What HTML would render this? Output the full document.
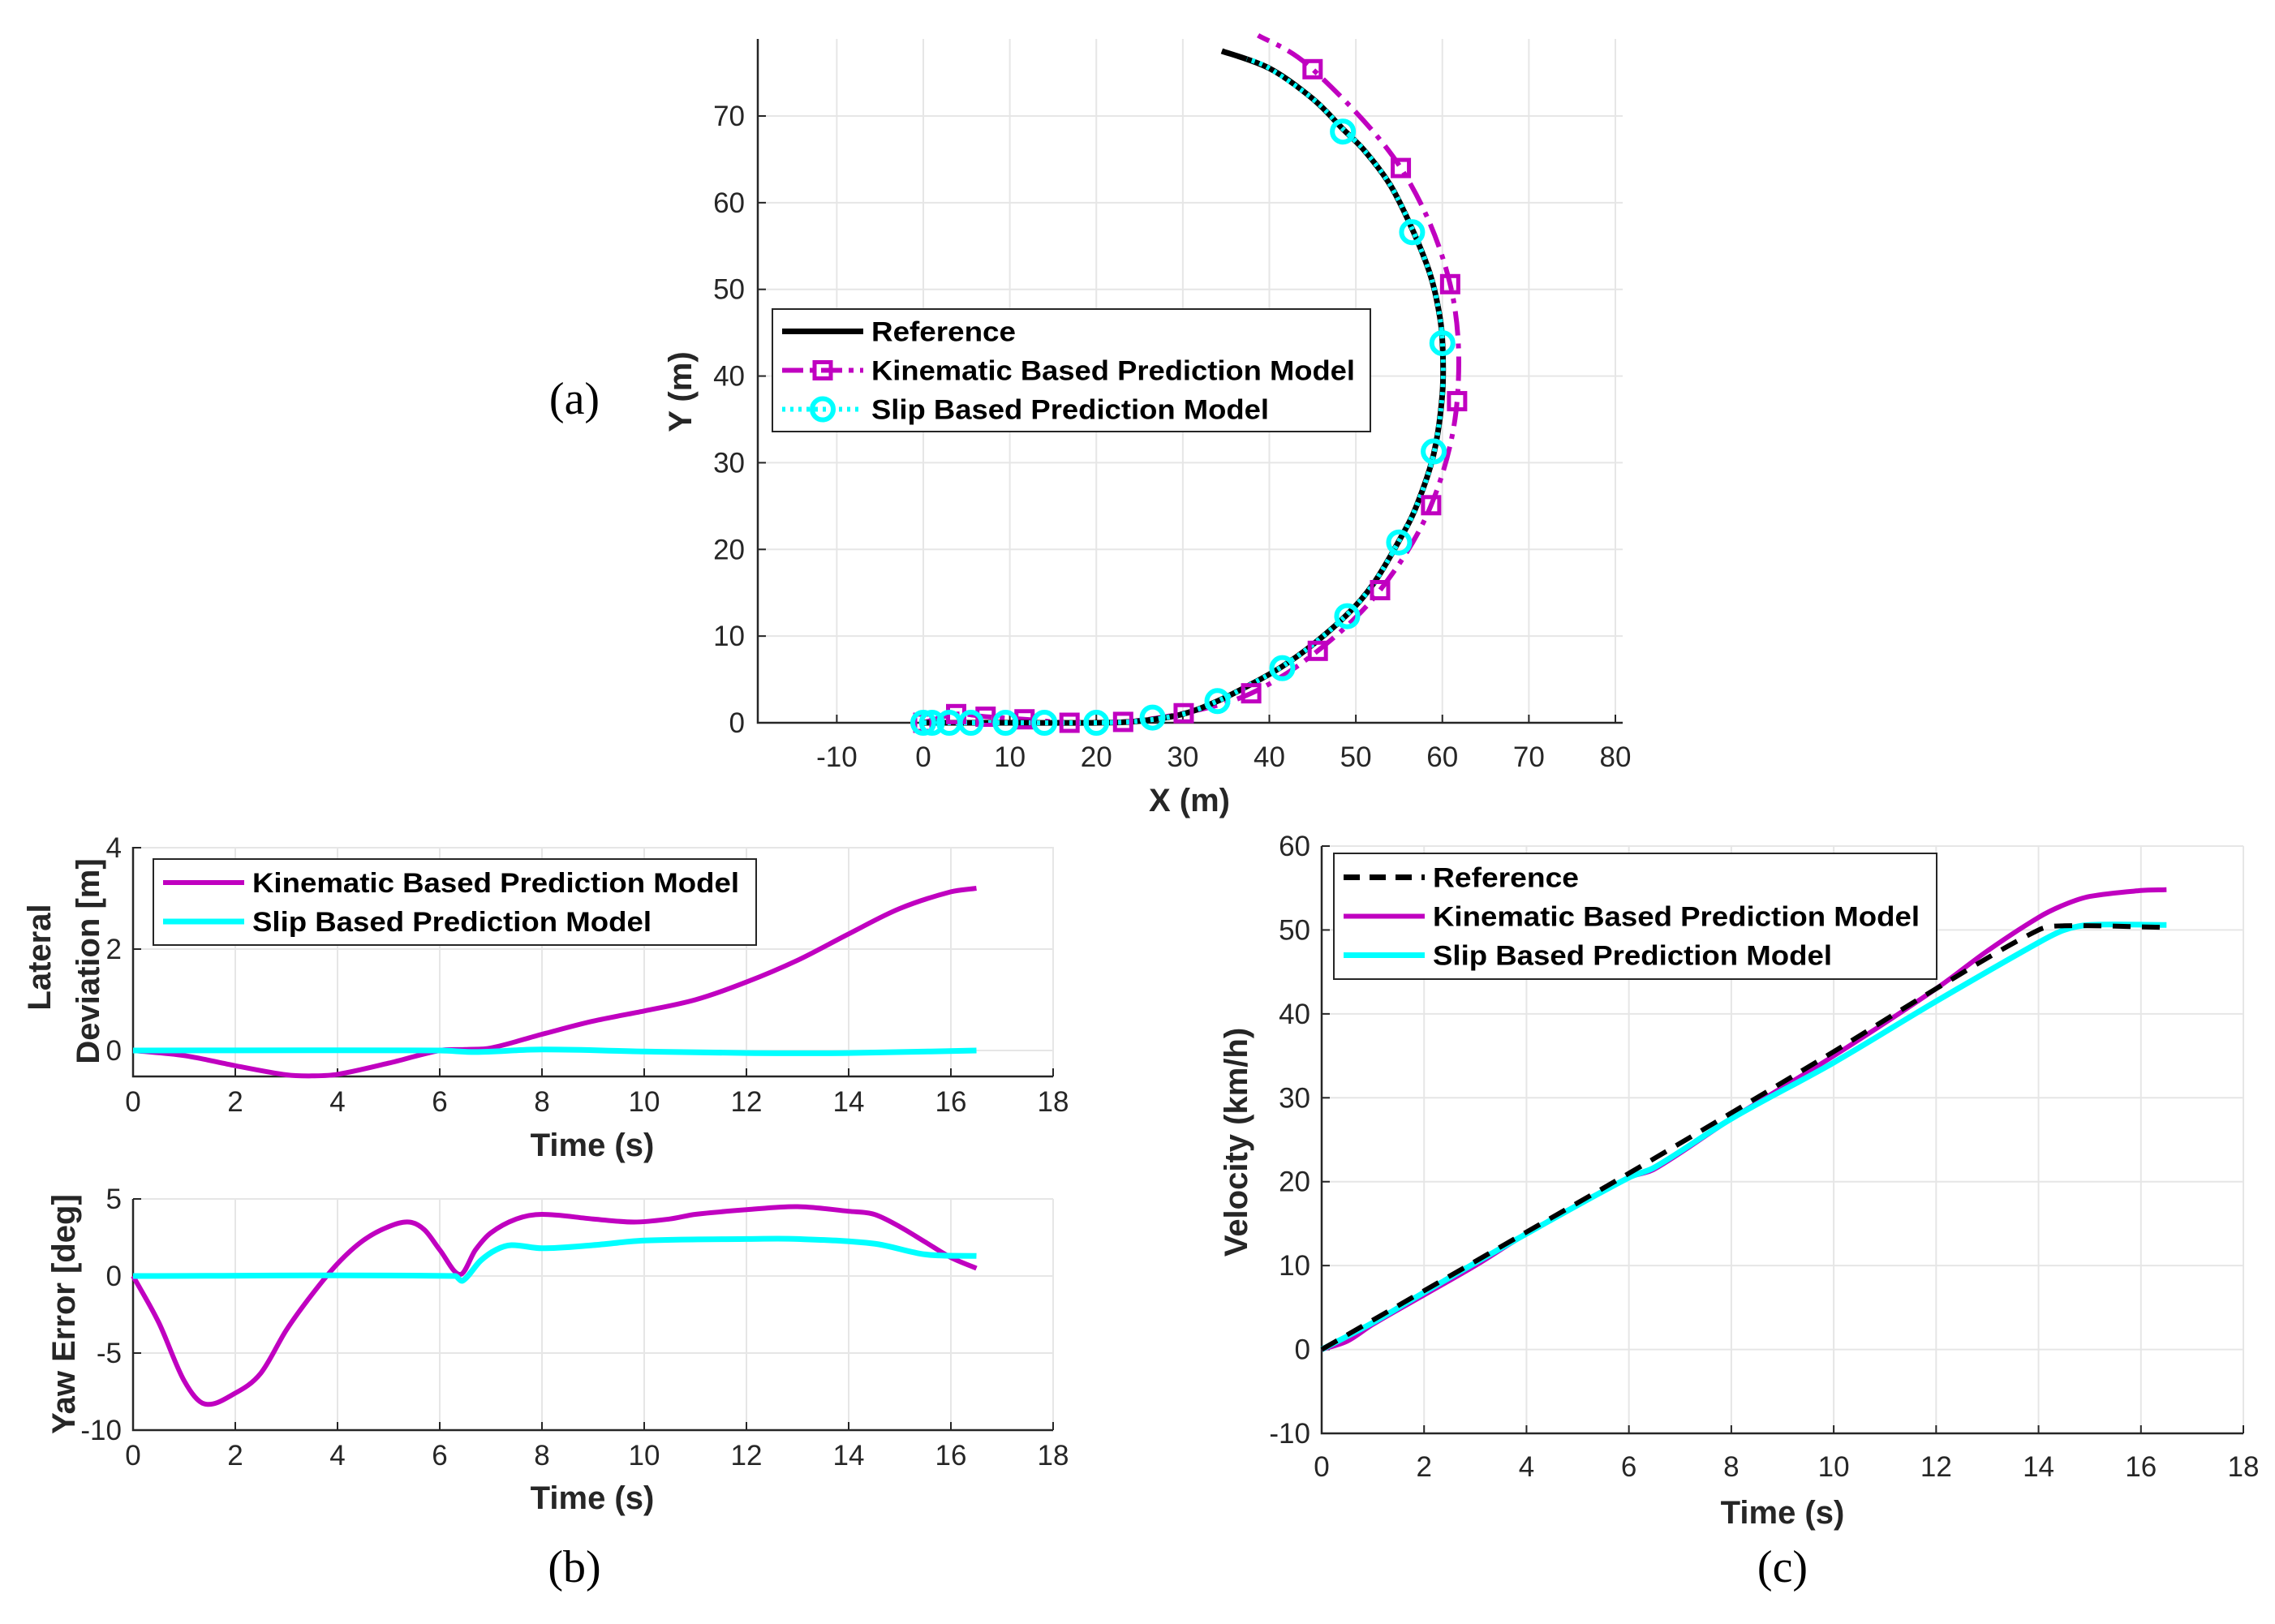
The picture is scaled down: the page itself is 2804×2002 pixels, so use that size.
<!DOCTYPE html>
<html><head><meta charset="utf-8">
<style>
html,body{margin:0;padding:0;background:#fff;}
svg{display:block;font-family:"Liberation Sans",sans-serif;}
.tick{font-size:35px;fill:#262626;}
.lab{font-size:40px;font-weight:bold;fill:#262626;}
.leg{font-size:34px;font-weight:bold;fill:#000;}
.cap{font-family:"Liberation Serif",serif;font-size:56px;fill:#000;}
</style></head>
<body>
<svg id="fig" width="2804" height="2002" viewBox="0 0 2804 2002">
<text class="cap" x="708" y="510" text-anchor="middle">(a)</text>
<text class="cap" x="708" y="1950" text-anchor="middle">(b)</text>
<text class="cap" x="2197" y="1950" text-anchor="middle">(c)</text>
</svg>
<script>
// ---- (a) trajectory data ----
const refX = [0,10,20,25,30,34,38,41.5,45,49,52,55,57,59,60,60,59.5,58.5,56.5,54,51,48.5,45,40,34.5];
const refY = [0,0,0,0.2,1,2.5,4.5,6.5,9,12.5,16,21,25,31,38,44,48,52,57,62,66,68.5,72,75.5,77.5];
const kinX = [0,3.8,7.2,11.7,16.9,23.1,30.1,37.9,45.6,52.8,58.7,61.7,60.9,55.2,45,38.7];
const kinY = [0,1.0,0.7,0.4,0,0.1,1.1,3.4,8.3,15.3,25.1,37.1,50.6,64,75.4,79.3];
const slipX = [0,10,20,25,30,34,38,41.5,45,49,52,55,57,59,60,60,59.5,58.5,56.5,54,51,48.5,45,40,37.4];
const slipY = [0,0,0,0.2,1,2.5,4.5,6.5,9,12.5,16,21,25,31,38,44,48,52,57,62,66,68.5,72,75.5,76.6];
const slipMarkX = [0,1,3,5.5,9.5,14,20,26.5,34,41.5,49,55,59,60,56.5,48.5];
const slipMarkY = [0,0,0,0,0,0,0,0.6,2.5,6.3,12.3,20.8,31.3,43.8,56.6,68.2];
const aXTicks = [-10,0,10,20,30,40,50,60,70,80];
const aYTicks = [0,10,20,30,40,50,60,70];
// ---- (b) lateral deviation ----
const latT = [0,1,2,3,3.5,4,5,6,6.5,7,8,9,10,11,12,13,14,15,16,16.5];
const latKin = [0,-0.1,-0.3,-0.48,-0.5,-0.47,-0.25,0,0.02,0.05,0.32,0.58,0.78,1.0,1.35,1.78,2.3,2.8,3.13,3.2];
const latSlipT = [0,6,6.7,8,10,12,14,16.5];
const latSlip = [0,0,-0.03,0.02,-0.02,-0.05,-0.05,0];
const latYTicks = [0,2,4];
const timeTicks = [0,2,4,6,8,10,12,14,16,18];
// ---- (b) yaw error ----
const yawT = [0,0.5,1,1.4,2,2.5,3,3.5,4,4.5,5,5.4,5.7,6,6.4,6.7,7,7.5,8,9,9.8,10.5,11,12,13,14,14.5,15,15.5,16,16.5];
const yawKin = [0,-3,-6.8,-8.3,-7.6,-6.3,-3.5,-1.2,0.8,2.3,3.2,3.5,3.0,1.7,0.1,1.7,2.8,3.7,4.0,3.7,3.5,3.7,4.0,4.3,4.5,4.2,4.0,3.2,2.2,1.2,0.5];
const yawSlipT = [0,6.3,6.45,6.8,7.1,7.4,8,9,10,12,13,14.5,15.5,16.5];
const yawSlip = [0,0,-0.3,1.0,1.7,2.0,1.8,2.0,2.3,2.4,2.4,2.1,1.4,1.3];
const yawYTicks = [-10,-5,0,5];
// ---- (c) velocity ----
const velRefT = [0,2,4,6,8,10,12,14,14.5,16.5];
const velRef = [0,7,14,21,28.2,35.5,43,50,50.5,50.3];
const velKinT = [0,0.5,1,2,3,4,6,6.5,8,10,12,13,14,14.5,15,16,16.5];
const velKin = [0,1,3,6.5,10,13.8,20.5,21.5,27.5,35,43,47.5,51.5,53,54,54.7,54.8];
const velSlipT = [0,1,2,4,6,6.5,8,10,12,14,14.5,15,16.5];
const velSlip = [0,3.2,6.8,13.8,20.5,21.7,27.5,34.2,41.5,48.5,50,50.6,50.6];
const velYTicks = [-10,0,10,20,30,40,50,60];

const NS = 'http://www.w3.org/2000/svg';
const fig = document.getElementById('fig');
const MAG = '#c000c0', CYA = '#00ffff';

function mk(tag, parent, attrs) {
  const e = document.createElementNS(NS, tag);
  for (const k in attrs) e.setAttribute(k, attrs[k]);
  parent.appendChild(e);
  return e;
}
function lin(d0, d1, r0, r1) { return v => r0 + (v - d0) * (r1 - r0) / (d1 - d0); }
function smoothPath(px, py) {
  let d = 'M' + px[0].toFixed(1) + ',' + py[0].toFixed(1);
  for (let i = 0; i < px.length - 1; i++) {
    const i0 = Math.max(0, i - 1), i3 = Math.min(px.length - 1, i + 2);
    const c1x = px[i] + (px[i + 1] - px[i0]) / 6, c1y = py[i] + (py[i + 1] - py[i0]) / 6;
    const c2x = px[i + 1] - (px[i3] - px[i]) / 6, c2y = py[i + 1] - (py[i3] - py[i]) / 6;
    d += ' C' + c1x.toFixed(1) + ',' + c1y.toFixed(1) + ' ' + c2x.toFixed(1) + ',' + c2y.toFixed(1) + ' ' + px[i + 1].toFixed(1) + ',' + py[i + 1].toFixed(1);
  }
  return d;
}
// function-style smoothing (x monotonic) - no loops
function funcPath(px, py) {
  const n = px.length, m = [];
  for (let i = 0; i < n; i++) {
    const a = Math.max(0, i - 1), b = Math.min(n - 1, i + 1);
    m.push((py[b] - py[a]) / (px[b] - px[a]));
  }
  let d = 'M' + px[0].toFixed(1) + ',' + py[0].toFixed(1);
  for (let i = 0; i < n - 1; i++) {
    const dx = (px[i + 1] - px[i]) / 3;
    d += ' C' + (px[i] + dx).toFixed(1) + ',' + (py[i] + m[i] * dx).toFixed(1) + ' ' + (px[i + 1] - dx).toFixed(1) + ',' + (py[i + 1] - m[i + 1] * dx).toFixed(1) + ' ' + px[i + 1].toFixed(1) + ',' + py[i + 1].toFixed(1);
  }
  return d;
}
function axes(g, L, R, T, B, sx, sy, xt, yt, xlabY, ylabX) {
  for (const v of xt) {
    const x = sx(v);
    const gl = mk('line', g, {x1: x, x2: x, y1: T, y2: B, stroke: '#e6e6e6', 'stroke-width': 2});
    
    
    const tk = mk('line', g, {x1: x, x2: x, y1: B, y2: B - 10, stroke: '#262626', 'stroke-width': 2});
    
    
    const t = mk('text', g, {x: x, y: xlabY, 'text-anchor': 'middle', class: 'tick'});
    t.textContent = v;
    
    
  }
  for (const v of yt) {
    const y = sy(v);
    const gl = mk('line', g, {x1: L, x2: R, y1: y, y2: y, stroke: '#e6e6e6', 'stroke-width': 2});
    
    
    const tk = mk('line', g, {x1: L, x2: L + 10, y1: y, y2: y, stroke: '#262626', 'stroke-width': 2});
    
    
    const t = mk('text', g, {x: ylabX, y: y + 12, 'text-anchor': 'end', class: 'tick'});
    t.textContent = v;
    
    
  }
  const ax = mk('path', g, {d: `M${L},${T} L${L},${B} L${R},${B}`, fill: 'none', stroke: '#262626', 'stroke-width': 2.5});
  
  
}
function series(g, xs, ys, sx, sy, style, name, isFunc) {
  const d = isFunc ? funcPath(xs.map(sx), ys.map(sy)) : smoothPath(xs.map(sx), ys.map(sy));
  const p = mk('path', g, Object.assign({d: d, fill: 'none', 'stroke-linejoin': 'round'}, style));
  
  
  return p;
}
function legend(g, x, y, w, h, entries, rowH, name) {
  const lg = mk('g', g, {});
  
  
  mk('rect', lg, {x: x, y: y, width: w, height: h, fill: '#fff', stroke: '#262626', 'stroke-width': 2});
  entries.forEach((en, i) => {
    const cy = y + rowH * (i + 0.5) + (h - rowH * entries.length) / 2;
    const ln = mk('line', lg, Object.assign({x1: x + 12, x2: x + 112, y1: cy, y2: cy}, en.style));
    
    
    if (en.marker) en.marker(lg, x + 62, cy);
    const t = mk('text', lg, {x: x + 122, y: cy + 12, class: 'leg', textLength: en.tl, lengthAdjust: 'spacingAndGlyphs'});
    t.textContent = en.label;
    
    
  });
}
function sq(g, x, y) {
  const r = mk('rect', g, {x: x - 10, y: y - 10, width: 20, height: 20, fill: 'none', stroke: MAG, 'stroke-width': 5});
  
  
}
function circ(g, x, y) {
  const c = mk('circle', g, {cx: x, cy: y, r: 13, fill: 'none', stroke: CYA, 'stroke-width': 6});
  
  
}

// ===== Plot (a) =====
{
  const g = mk('g', fig, {});
  
  
  const L = 934, R = 2000, T = 48, B = 891;
  const sx = lin(0, 80, 1138, 1991), sy = lin(0, 70, 891, 143);
  axes(g, L, R, T, B, sx, sy, aXTicks, aYTicks, 945, 918);
  const xl = mk('text', g, {x: 1466, y: 1000, 'text-anchor': 'middle', class: 'lab'});
  xl.textContent = 'X (m)';
  
  
  const yl = mk('text', g, {x: 0, y: 0, 'text-anchor': 'middle', class: 'lab', transform: 'translate(852,483) rotate(-90)'});
  yl.textContent = 'Y (m)';
  
  
  series(g, kinX, kinY, sx, sy, {stroke: MAG, 'stroke-width': 6, 'stroke-dasharray': '30 10 6 10'}, 'kinematic-trajectory');
  series(g, refX, refY, sx, sy, {stroke: '#000', 'stroke-width': 7}, 'reference-trajectory');
  series(g, slipX, slipY, sx, sy, {stroke: CYA, 'stroke-width': 6, 'stroke-dasharray': '4 6'}, 'slip-trajectory');
  for (let i = 0; i < kinX.length - 1; i++) sq(g, sx(kinX[i]), sy(kinY[i]));
  for (let i = 0; i < slipMarkX.length; i++) circ(g, sx(slipMarkX[i]), sy(slipMarkY[i]));
  legend(g, 952, 381, 737, 151, [
    {label: 'Reference', tl: 178, style: {stroke: '#000', 'stroke-width': 7}},
    {label: 'Kinematic Based Prediction Model', tl: 596, style: {stroke: MAG, 'stroke-width': 6, 'stroke-dasharray': '26 8 6 8'}, marker: sq},
    {label: 'Slip Based Prediction Model', tl: 490, style: {stroke: CYA, 'stroke-width': 6, 'stroke-dasharray': '4 6'}, marker: circ}
  ], 48, 'trajectory-legend');
}

// ===== Plot (b) lateral =====
{
  const g = mk('g', fig, {});
  
  
  const L = 164, R = 1298, T = 1044, B = 1327;
  const sx = lin(0, 18, 164, 1298), sy = lin(0, 4, 1295, 1045);
  axes(g, L, R, T, B, sx, sy, timeTicks, latYTicks, 1370, 150);
  const xl = mk('text', g, {x: 730, y: 1425, 'text-anchor': 'middle', class: 'lab'});
  xl.textContent = 'Time (s)';
  
  
  const yl = mk('text', g, {x: 0, y: 0, 'text-anchor': 'middle', class: 'lab', transform: 'translate(62,1180) rotate(-90)'});
  yl.textContent = 'Lateral';
  
  
  const yl2 = mk('text', g, {x: 0, y: 0, 'text-anchor': 'middle', class: 'lab', transform: 'translate(122,1185) rotate(-90)'});
  yl2.textContent = 'Deviation [m]';
  
  
  series(g, latT, latKin, sx, sy, {stroke: MAG, 'stroke-width': 6}, 'kinematic-lateral-line', true);
  series(g, latSlipT, latSlip, sx, sy, {stroke: CYA, 'stroke-width': 7}, 'slip-lateral-line', true);
  legend(g, 189, 1059, 743, 106, [
    {label: 'Kinematic Based Prediction Model', tl: 600, style: {stroke: MAG, 'stroke-width': 6}},
    {label: 'Slip Based Prediction Model', tl: 492, style: {stroke: CYA, 'stroke-width': 7}}
  ], 48, 'lateral-legend');
}

// ===== Plot (b) yaw =====
{
  const g = mk('g', fig, {});
  
  
  const L = 164, R = 1298, T = 1478, B = 1763;
  const sx = lin(0, 18, 164, 1298), sy = lin(0, 5, 1573, 1478);
  axes(g, L, R, T, B, sx, sy, timeTicks, yawYTicks, 1806, 150);
  const xl = mk('text', g, {x: 730, y: 1860, 'text-anchor': 'middle', class: 'lab'});
  xl.textContent = 'Time (s)';
  
  
  const yl = mk('text', g, {x: 0, y: 0, 'text-anchor': 'middle', class: 'lab', transform: 'translate(92,1620) rotate(-90)'});
  yl.textContent = 'Yaw Error [deg]';
  
  
  series(g, yawT, yawKin, sx, sy, {stroke: MAG, 'stroke-width': 6}, 'kinematic-yaw-line', true);
  series(g, yawSlipT, yawSlip, sx, sy, {stroke: CYA, 'stroke-width': 7}, 'slip-yaw-line', true);
}

// ===== Plot (c) velocity =====
{
  const g = mk('g', fig, {});
  
  
  const L = 1629, R = 2765, T = 1043, B = 1767;
  const sx = lin(0, 18, 1629, 2765), sy = lin(0, 60, 1663.6, 1043);
  axes(g, L, R, T, B, sx, sy, timeTicks, velYTicks, 1820, 1615);
  const xl = mk('text', g, {x: 2197, y: 1878, 'text-anchor': 'middle', class: 'lab'});
  xl.textContent = 'Time (s)';
  
  
  const yl = mk('text', g, {x: 0, y: 0, 'text-anchor': 'middle', class: 'lab', transform: 'translate(1537,1408) rotate(-90)'});
  yl.textContent = 'Velocity (km/h)';
  
  
  series(g, velKinT, velKin, sx, sy, {stroke: MAG, 'stroke-width': 6}, 'kinematic-velocity-line', true);
  series(g, velSlipT, velSlip, sx, sy, {stroke: CYA, 'stroke-width': 7}, 'slip-velocity-line', true);
  series(g, velRefT, velRef, sx, sy, {stroke: '#000', 'stroke-width': 6, 'stroke-dasharray': '22 14'}, 'reference-velocity-line', true);
  legend(g, 1644, 1052, 743, 155, [
    {label: 'Reference', tl: 180, style: {stroke: '#000', 'stroke-width': 7, 'stroke-dasharray': '20 12'}},
    {label: 'Kinematic Based Prediction Model', tl: 600, style: {stroke: MAG, 'stroke-width': 6}},
    {label: 'Slip Based Prediction Model', tl: 492, style: {stroke: CYA, 'stroke-width': 7}}
  ], 48, 'velocity-legend');
}
</script>
</body></html>
